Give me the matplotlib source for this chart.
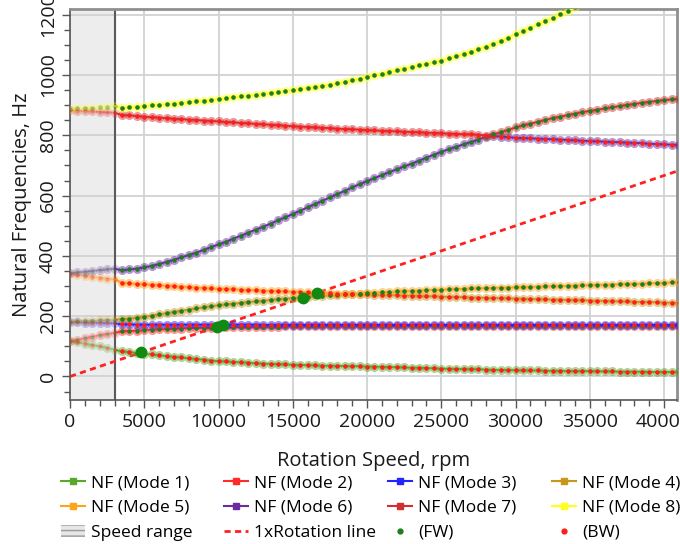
import numpy as np
import matplotlib
matplotlib.use("Agg")
import matplotlib.pyplot as plt
from matplotlib.lines import Line2D
from matplotlib.patches import Patch
from matplotlib.ticker import MultipleLocator

plt.rcParams['font.family'] = ['Open Sans', 'DejaVu Sans']

# rotation speed grid of the campbell diagram, rpm
rpm = np.arange(0, 41001, 500)

# natural frequencies per mode, Hz (sorted by frequency at each speed)
mode1 = [117, 113, 109, 105, 100, 95, 89,
         83, 81, 78, 76, 73, 70, 68, 65, 63, 60, 58, 56, 53, 51,
         50, 48, 47, 46, 44, 43, 42, 41, 40, 39,
         38, 38, 37, 36, 36, 35, 35, 34, 34, 33,
         33, 32, 31, 31, 30, 29, 29, 28, 27, 26,
         26, 25, 25, 24, 24, 23, 22, 22, 21, 21,
         20, 20, 20, 19, 19, 19, 18, 18, 18, 18,
         17, 17, 17, 16, 16, 16, 16, 15, 15, 15,
         15, 15]
mode2 = [117, 122, 127, 132, 137, 141, 145,
         150, 151, 152, 154, 155, 156, 157, 158, 159, 160, 161, 161, 162, 163,
         163, 164, 164, 164, 165, 165, 165, 165, 166, 166,
         166, 166, 166, 166, 166, 166, 166, 166, 166, 166,
         166, 166, 166, 167, 167, 167, 167, 167, 167, 167,
         167, 167, 167, 167, 167, 167, 167, 167, 167, 167,
         167, 167, 167, 167, 167, 167, 167, 167, 167, 167,
         167, 167, 167, 167, 167, 167, 167, 167, 167, 167,
         167, 167]
mode3 = [180, 180, 179, 179, 178, 177, 176,
         173, 173, 172, 172, 172, 172, 172, 172, 172, 172, 172, 172, 172, 172,
         172, 172, 172, 172, 172, 171, 171, 171, 171, 171,
         171, 171, 171, 171, 171, 171, 171, 171, 171, 171,
         171, 171, 171, 171, 171, 171, 171, 171, 171, 171,
         171, 171, 171, 171, 171, 171, 171, 171, 171, 171,
         171, 171, 171, 171, 171, 171, 171, 171, 171, 171,
         171, 171, 171, 171, 171, 171, 171, 171, 171, 171,
         171, 171]
mode4 = [182, 183, 184, 185, 186, 187, 189,
         190, 192, 195, 198, 202, 206, 210, 214, 218, 222, 226, 229, 233, 236,
         239, 242, 244, 247, 249, 251, 254, 256, 258, 260,
         262, 264, 266, 268, 269, 271, 272, 274, 273, 272,
         271, 270, 270, 269, 268, 268, 267, 266, 266, 265,
         264, 264, 263, 262, 262, 261, 260, 260, 259, 258,
         258, 257, 256, 256, 255, 255, 254, 253, 253, 252,
         251, 251, 250, 249, 249, 248, 247, 247, 246, 245,
         245, 244]
mode5 = [339, 337, 334, 331, 328, 325, 322,
         311, 309, 307, 306, 304, 303, 301, 300, 298, 297, 295, 294, 292, 291,
         290, 289, 288, 287, 286, 285, 284, 283, 282, 281,
         280, 279, 278, 277, 276, 275, 274, 274, 275, 276,
         278, 279, 281, 282, 283, 284, 285, 286, 287, 288,
         289, 290, 291, 292, 292, 293, 294, 295, 295, 296,
         297, 297, 298, 299, 299, 300, 301, 301, 302, 303,
         304, 304, 305, 306, 307, 307, 308, 309, 310, 311,
         312, 313]
mode6 = [342, 345, 348, 350, 353, 355, 358,
         352, 355, 358, 362, 367, 373, 380, 387, 395, 403, 411, 420, 429, 438,
         447, 457, 467, 477, 487, 497, 507, 518, 528, 539,
         550, 561, 572, 583, 594, 605, 616, 627, 638, 648,
         658, 668, 678, 687, 697, 706, 716, 726, 736, 745,
         754, 762, 770, 778, 786, 795, 797, 796, 794, 792,
         791, 790, 789, 788, 787, 786, 785, 783, 782, 781,
         780, 779, 778, 777, 776, 775, 774, 772, 771, 770,
         769, 768]
mode7 = [883, 882, 881, 879, 878, 876, 875,
         867, 866, 864, 862, 860, 859, 857, 855, 854, 852, 851, 849, 848, 846,
         844, 843, 841, 840, 838, 837, 835, 834, 832, 830,
         829, 828, 826, 825, 824, 822, 821, 820, 819, 817,
         816, 815, 814, 813, 812, 811, 810, 809, 808, 807,
         806, 805, 804, 803, 802, 799, 803, 810, 818, 826,
         833, 839, 845, 851, 857, 862, 867, 872, 877, 881,
         885, 889, 893, 897, 901, 904, 908, 911, 914, 917,
         919, 921]
mode8 = [887, 889, 890, 892, 894, 895, 897,
         891, 893, 895, 897, 899, 901, 903, 905, 908, 910, 913, 915, 918, 920,
         923, 926, 929, 932, 935, 938, 941, 944, 947, 950,
         953, 957, 960, 964, 968, 972, 977, 982, 988, 994,
         999, 1004, 1010, 1015, 1021, 1026, 1032, 1037, 1043, 1048,
         1055, 1062, 1070, 1078, 1086, 1094, 1103, 1113, 1124, 1136,
         1146, 1157, 1168, 1179, 1190, 1201, 1212, 1224, 1236, 1248,
         np.nan, np.nan, np.nan, np.nan, np.nan, np.nan, np.nan, np.nan, np.nan, np.nan,
         np.nan, np.nan]

modes = [mode1, mode2, mode3, mode4, mode5, mode6, mode7, mode8]
mode_colors = ['#5aa829', '#ff2b2b', '#2424ff', '#c8961c',
               '#ffa31a', '#6b2ca3', '#d23030', '#ffff1a']
# whirl direction at low speed, and the speed above which it flips
whirl_start = ['B', 'F', 'B', 'F', 'B', 'F', 'B', 'F']
whirl_flip = [None, None, None, 19000, 19000, 28000, 28000, None]

# critical speeds (crossings with the 1x line)
crit_rpm = [4800, 9900, 10300, 15700, 16600]
crit_hz = [80, 165, 172, 262, 277]

# 1x rotation line end points
rot_rpm = [0, 41000]
rot_hz = [0, 683.3]

speed_range = (0, 3000)

fw_color = '#1e7d1e'
bw_color = '#ff1c1c'

fig = plt.figure(figsize=(6.8, 5.44), dpi=100)
ax = fig.add_axes([70 / 680, 1 - 400 / 544, 607 / 680, 391 / 544])

ax.axvspan(*speed_range, color='#ededed', zorder=0)
ax.axvline(speed_range[1], color='#5a5a5a', lw=1.5, zorder=1)

ax.plot(rot_rpm, rot_hz, color='#ff2020', lw=2, ls=(0, (2.2, 1.6)), zorder=2)

cut = speed_range[1]
for vals, col, w0, flip in zip(modes, mode_colors, whirl_start, whirl_flip):
    y = np.array(vals, dtype=float)
    lo = rpm <= cut
    hi = rpm >= cut
    # faded part inside the speed range
    ax.plot(rpm[lo], y[lo], color=col, lw=1.3, alpha=0.35, zorder=3)
    ax.plot(rpm[lo], y[lo], 'o', color=col, ms=6.5, mec='none', alpha=0.25, zorder=3)
    ax.plot(rpm[hi], y[hi], color=col, lw=1.3, zorder=3)
    ax.plot(rpm[rpm > cut], y[rpm > cut], 'o', color=col, ms=6.5, mec='none',
            alpha=0.5, zorder=3)
    # whirl direction dots
    other = 'B' if w0 == 'F' else 'F'
    whirl = np.where(rpm > flip, other, w0) if flip else np.full(rpm.shape, w0)
    for w, c in (('F', fw_color), ('B', bw_color)):
        m = whirl == w
        ax.plot(rpm[m & lo], y[m & lo], 'o', color=c, ms=3.3, mec='none',
                alpha=0.35, zorder=4)
        ax.plot(rpm[m & (rpm > cut)], y[m & (rpm > cut)], 'o', color=c, ms=3.3,
                mec='none', zorder=4)

ax.plot(crit_rpm, crit_hz, 'o', color='#118a11', ms=8.5, mec='none', zorder=5)

ax.set_xlim(0, 40870)
ax.set_ylim(-78, 1219)
ax.xaxis.set_major_locator(MultipleLocator(5000))
ax.xaxis.set_minor_locator(MultipleLocator(1000))
ax.yaxis.set_major_locator(MultipleLocator(200))
ax.yaxis.set_minor_locator(MultipleLocator(50))
ax.grid(True, which='major', color='#d2d2d2', lw=1.3, zorder=1)
ax.set_axisbelow(True)

ax.tick_params(which='both', direction='out', color='#555555', width=1)
ax.tick_params(which='major', length=6, labelsize=14, labelcolor='#1a1a1a')
ax.tick_params(which='minor', length=4)
ax.tick_params(axis='y', labelrotation=90)
for lbl in ax.get_yticklabels():
    lbl.set_va('center')

for s in ('left', 'bottom'):
    ax.spines[s].set_color('#555555')
    ax.spines[s].set_linewidth(1.2)
for s in ('top', 'right'):
    ax.spines[s].set_color('#8f8f8f')
    ax.spines[s].set_linewidth(2)

ax.set_xlabel('Rotation Speed, rpm', fontsize=14.5, color='#1a1a1a', labelpad=14)
ax.set_ylabel('Natural Frequencies, Hz', fontsize=14.5, color='#1a1a1a', labelpad=5)

# legend, one block per column
mode_handles = [Line2D([], [], color=c, lw=1.5, marker='s', ms=4.5) for c in mode_colors]
mode_labels = ['NF (Mode %d)' % (i + 1) for i in range(8)]
extra_handles = [
    Patch(facecolor='#e6e6e6', edgecolor='#9a9a9a', hatch='---', lw=0),
    Line2D([], [], color='#ff2020', lw=2, ls=(0, (2.2, 1.6))),
    Line2D([], [], color=fw_color, marker='o', ms=3.5, lw=0),
    Line2D([], [], color=bw_color, marker='o', ms=3.5, lw=0),
]
extra_labels = ['Speed range', '1xRotation line', '(FW)', '(BW)']
col_x = [61, 224, 388, 552]
for k in range(4):
    handles = [mode_handles[k], mode_handles[k + 4], extra_handles[k]]
    labels = [mode_labels[k], mode_labels[k + 4], extra_labels[k]]
    fig.legend(handles, labels, loc='upper left',
               bbox_to_anchor=(col_x[k] / 680, 1 - 475 / 544),
               frameon=False, fontsize=12.5, handlelength=1.4, handletextpad=0.35,
               labelspacing=0.5, borderpad=0, borderaxespad=0)

fig.savefig('out.png', dpi=100)
